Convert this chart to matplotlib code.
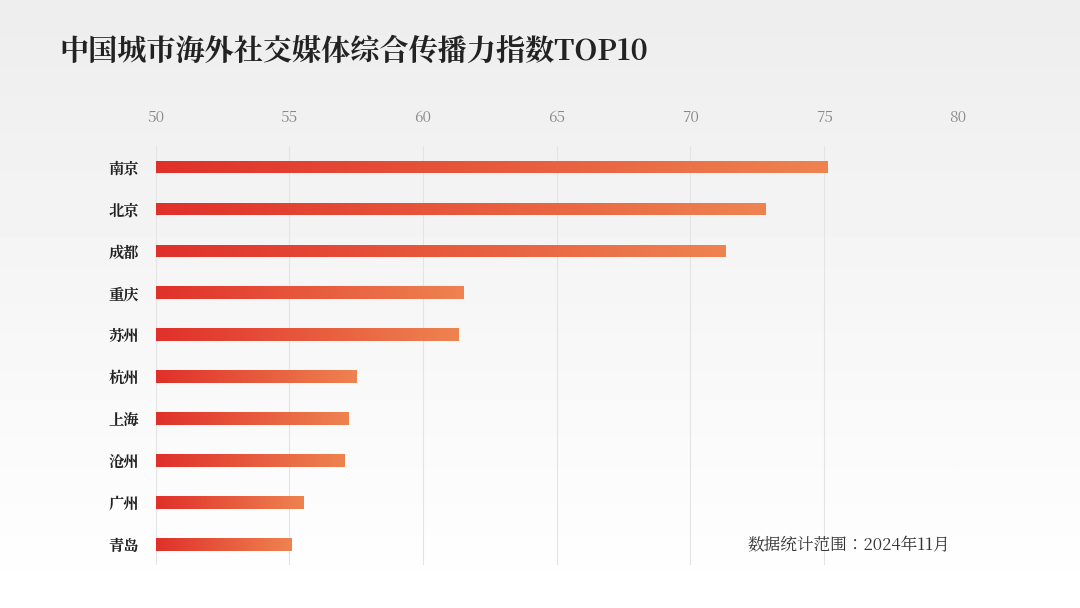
import matplotlib.pyplot as plt
import numpy as np
from matplotlib import font_manager
from matplotlib.colors import LinearSegmentedColormap

# find a CJK font that is actually installed
cjk = None
for f in font_manager.fontManager.ttflist:
    if 'CJK' in f.name and ('SC' in f.name or cjk is None):
        cjk = f.name
        if 'SC' in f.name:
            break
plt.rcParams['font.family'] = [cjk or 'Noto Sans CJK SC', 'DejaVu Sans']

cities = ['南京', '北京', '成都', '重庆', '苏州', '杭州', '上海', '沧州', '广州', '青岛']
values = [75.1, 72.8, 71.3, 61.5, 61.3, 57.5, 57.2, 57.05, 55.5, 55.05]
ticks = [50, 55, 60, 65, 70, 75, 80]

fig = plt.figure(figsize=(10.8, 6.08), dpi=100)
fig.patch.set_facecolor('#f7f7f7')
bg = fig.add_axes([0, 0, 1, 1], zorder=-5)
bg.imshow(np.linspace(0.93, 1.0, 100).reshape(-1, 1), cmap='gray', vmin=0, vmax=1,
          aspect='auto', extent=[0, 1, 0, 1])
bg.axis('off')

fig.text(0.055, 0.915, '中国城市海外社交媒体综合传播力指数TOP10', fontsize=21,
         fontweight='bold', color='#222222', va='center')

ax = fig.add_axes([0.144, 0.07, 0.743, 0.69])
ax.patch.set_alpha(0)
y = np.arange(len(cities))
cmap = LinearSegmentedColormap.from_list('g', ['#e0302a', '#ee8350'])
grad = np.linspace(0, 1, 256).reshape(1, -1)
h = 0.3
for yi, v in zip(y, values):
    bar = ax.barh(yi, v - 50, left=50, height=h, color='none')[0]
    im = ax.imshow(grad, cmap=cmap, aspect='auto', extent=[50, v, yi + h / 2, yi - h / 2], zorder=3)
    im.set_clip_path(bar)
ax.set_ylim(len(cities) - 0.5, -0.5)
ax.set_xlim(50, 80)

ax.set_xticks(ticks)
ax.xaxis.tick_top()
ax.tick_params(axis='x', length=0, labelsize=11, labelcolor='#888888', pad=14)
ax.set_yticks(y)
ax.set_yticklabels(cities, fontsize=11, fontweight='bold', color='#222222')
ax.tick_params(axis='y', length=0, pad=12)
ax.grid(axis='x', color='#e4e4e4', lw=0.8, zorder=0)
for s in ax.spines.values():
    s.set_visible(False)

fig.text(0.692, 0.103, '数据统计范围：2024年11月', fontsize=12, color='#333333', va='center')

fig.savefig('out.png', dpi=100, facecolor=fig.get_facecolor())
